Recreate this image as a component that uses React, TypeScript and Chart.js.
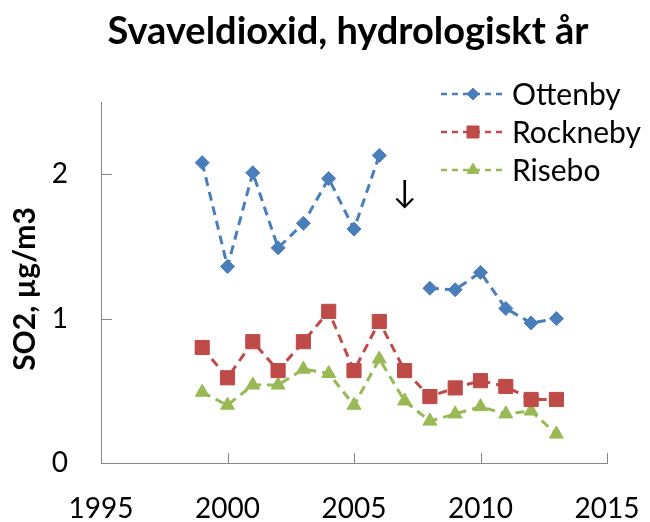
import React, { useEffect, useRef } from "react";
import { Chart, registerables } from "chart.js";

Chart.register(...registerables);

const chartTitle = "Svaveldioxid, hydrologiskt år";
const yAxisTitle = "SO2, µg/m3";
const years = [1999, 2000, 2001, 2002, 2003, 2004, 2005, 2006, 2007, 2008, 2009, 2010, 2011, 2012, 2013];
const ottenby = [2.08, 1.36, 2.01, 1.49, 1.66, 1.97, 1.62, 2.13, null, 1.21, 1.2, 1.32, 1.07, 0.97, 1.0];
const rockneby = [0.8, 0.59, 0.84, 0.64, 0.84, 1.05, 0.64, 0.98, 0.64, 0.46, 0.52, 0.57, 0.53, 0.44, 0.44];
const risebo = [0.49, 0.4, 0.54, 0.54, 0.65, 0.62, 0.4, 0.72, 0.43, 0.29, 0.34, 0.39, 0.34, 0.36, 0.2];
const seriesNames = ["Ottenby", "Rockneby", "Risebo"];
const xTicks = [1995, 2000, 2005, 2010, 2015];
const yTicks = [0, 1, 2];
const arrowMark = { year: 2007, value: 1.87, text: "↓" };

const FONT = "Lato, 'Open Sans', sans-serif";
const AXIS = "#868686";

const toPoints = (vals: (number | null)[]) => years.map((x, i) => ({ x, y: vals[i] }));

export default function App() {
  const ref = useRef<HTMLCanvasElement | null>(null);
  useEffect(() => {
    if (!ref.current) return;
    const colors = ["#4A7EBB", "#BE4B48", "#98B954"];
    const styles = ["rectRot", "rect", "triangle"];
    const radii = [7, 10, 8];
    const all = [ottenby, rockneby, risebo];

    function drawMarker(ctx: CanvasRenderingContext2D, style: string, r: number, x: number, y: number) {
      ctx.beginPath();
      if (style === "rectRot") {
        ctx.moveTo(x, y - r);
        ctx.lineTo(x + r, y);
        ctx.lineTo(x, y + r);
        ctx.lineTo(x - r, y);
      } else if (style === "rect") {
        const s = Math.SQRT1_2 * r;
        ctx.rect(x - s, y - s, 2 * s, 2 * s);
      } else {
        ctx.moveTo(x, y - r);
        ctx.lineTo(x + r * 0.866, y + r / 2);
        ctx.lineTo(x - r * 0.866, y + r / 2);
      }
      ctx.closePath();
      ctx.fill();
      ctx.stroke();
    }

    const extras = {
      id: "extras",
      afterDraw(chart: any) {
        const ctx = chart.ctx;
        const ca = chart.chartArea;
        const xs = chart.scales.x;
        const ys = chart.scales.y;
        ctx.save();
        // inner tick marks
        ctx.strokeStyle = AXIS;
        ctx.lineWidth = 1;
        ctx.beginPath();
        yTicks.forEach((v) => {
          const py = Math.round(ys.getPixelForValue(v)) + 0.5;
          ctx.moveTo(ca.left, py);
          ctx.lineTo(ca.left + 11, py);
        });
        xTicks.forEach((v) => {
          const px = Math.round(xs.getPixelForValue(v)) + 0.5;
          ctx.moveTo(px, ca.bottom);
          ctx.lineTo(px, ca.bottom - 10);
        });
        ctx.stroke();

        // title
        ctx.fillStyle = "#000";
        ctx.font = `bold 38px ${FONT}`;
        ctx.textAlign = "center";
        ctx.textBaseline = "alphabetic";
        ctx.fillText(chartTitle, 348, 44);

        // y title
        ctx.save();
        ctx.translate(25, 289);
        ctx.rotate(-Math.PI / 2);
        ctx.font = `bold 30px ${FONT}`;
        ctx.textAlign = "center";
        ctx.textBaseline = "middle";
        ctx.fillText(yAxisTitle, 0, 0);
        ctx.restore();

        // arrow
        ctx.font = `32px ${FONT}`;
        ctx.textAlign = "center";
        ctx.textBaseline = "middle";
        ctx.fillText(arrowMark.text, xs.getPixelForValue(arrowMark.year), ys.getPixelForValue(arrowMark.value));

        // legend
        const rowY = [94, 132, 170];
        chart.data.datasets.forEach((ds: any, i: number) => {
          const y = rowY[i];
          ctx.strokeStyle = ds.borderColor;
          ctx.lineWidth = 2.5;
          ctx.setLineDash([6, 5]);
          ctx.beginPath();
          ctx.moveTo(441, y);
          ctx.lineTo(505, y);
          ctx.stroke();
          ctx.setLineDash([]);
          ctx.fillStyle = ds.pointBackgroundColor;
          ctx.strokeStyle = ds.pointBorderColor;
          ctx.lineWidth = 1;
          drawMarker(ctx, ds.pointStyle, ds.pointRadius * 0.85, 473, y);
          ctx.fillStyle = "#000";
          ctx.font = `30px ${FONT}`;
          ctx.textAlign = "left";
          ctx.textBaseline = "middle";
          ctx.fillText(ds.label, 512, y + 1);
        });
        ctx.restore();
      },
    };

    const chart = new Chart(ref.current, {
      type: "line",
      data: {
        datasets: all.map((vals, i) => ({
          label: seriesNames[i],
          data: toPoints(vals),
          borderColor: colors[i],
          backgroundColor: colors[i],
          pointBackgroundColor: colors[i],
          pointBorderColor: colors[i],
          pointBorderWidth: 1,
          pointStyle: styles[i],
          pointRadius: radii[i],
          borderWidth: 3,
          borderDash: [9, 6],
          spanGaps: false,
          tension: 0,
        })),
      },
      options: {
        responsive: false,
        devicePixelRatio: 1,
        animation: false,
        layout: { padding: { left: 0, top: 102, right: 43, bottom: 0 } },
        plugins: {
          legend: { display: false },
          title: { display: false },
          tooltip: { enabled: false },
        },
        scales: {
          x: {
            type: "linear",
            min: 1995,
            max: 2015,
            afterBuildTicks: (s: any) => {
              s.ticks = xTicks.map((v) => ({ value: v }));
            },
            afterFit: (s: any) => {
              s.height = 59;
              s.paddingLeft = 0;
              s.paddingRight = 0;
            },
            grid: { drawOnChartArea: false, drawTicks: true, tickLength: 29, tickColor: "rgba(0,0,0,0)" },
            border: { color: AXIS, width: 1 },
            ticks: {
              padding: 0,
              color: "#000",
              font: { family: FONT, size: 28 },
              maxRotation: 0,
              autoSkip: false,
              callback: (v: any) => String(v),
            },
          },
          y: {
            type: "linear",
            min: 0,
            max: 2.5,
            afterBuildTicks: (s: any) => {
              s.ticks = yTicks.map((v) => ({ value: v }));
            },
            afterFit: (s: any) => {
              s.width = 101;
              s.paddingTop = 0;
              s.paddingBottom = 0;
            },
            grid: { drawOnChartArea: false, drawTicks: true, tickLength: 33, tickColor: "rgba(0,0,0,0)" },
            border: { color: AXIS, width: 1 },
            ticks: {
              padding: 0,
              crossAlign: "near",
              color: "#000",
              font: { family: FONT, size: 28 },
              callback: (v: any) => String(v),
            },
          },
        },
      },
      plugins: [extras],
    } as any);
    return () => chart.destroy();
  }, []);

  return (
    <div style={{ position: "fixed", left: 0, top: 0, width: 650, height: 522, background: "#fff" }}>
      <canvas ref={ref} width={650} height={522} style={{ display: "block" }} />
    </div>
  );
}
